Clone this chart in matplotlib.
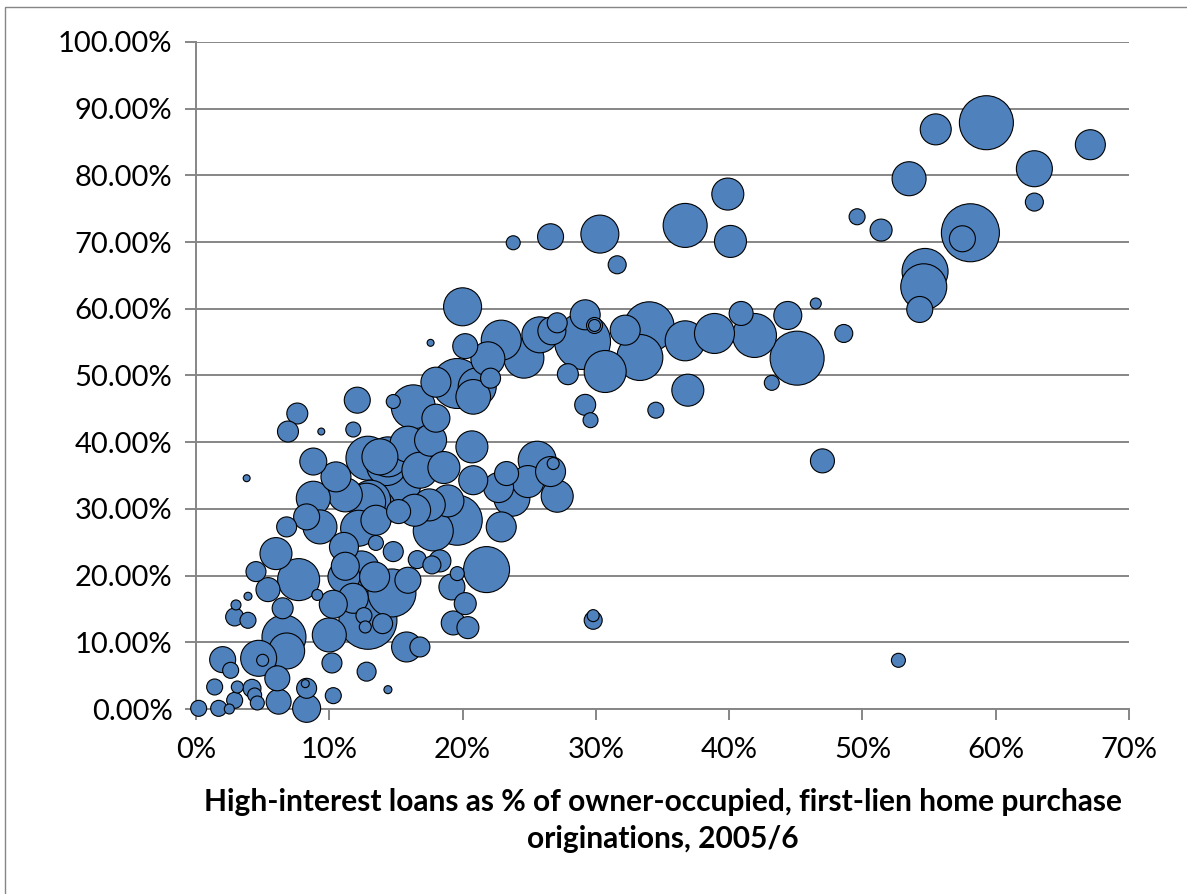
import numpy as np
import matplotlib
matplotlib.use("Agg")
import matplotlib.pyplot as plt
from matplotlib.ticker import FuncFormatter
from matplotlib.patches import Rectangle

# High-interest loan share (%), x
high_interest_pct = [
    59.3, 55.5, 67.1, 62.9, 53.5, 62.9, 49.6, 51.4, 58.1, 57.5, 54.7, 54.6, 54.3, 47.0, 52.7,
    36.7, 39.9, 40.1, 36.7, 38.9, 40.9, 41.9, 44.4, 46.5, 48.6, 45.1, 43.2, 36.9, 31.6, 30.3,
    26.6, 23.8, 34.5, 34.0, 33.3, 32.2, 30.7, 29.2, 29.0, 29.9, 29.9, 27.9, 29.2, 29.6, 25.8,
    26.7, 27.1, 24.6, 22.9, 21.9, 20.2, 17.6, 20.0, 22.1, 21.1, 19.6, 18.0, 16.3, 14.8, 18.0,
    20.8, 15.9, 20.7, 17.6, 13.8, 18.6, 15.2, 20.8, 22.7, 23.3, 24.9, 25.6, 26.8, 26.6, 27.1,
    23.7, 18.9, 19.6, 17.8, 22.9, 15.2, 14.7, 21.8, 19.2, 18.3, 16.6, 20.2, 19.3, 20.4, 19.6,
    29.8, 29.8, 15.8, 16.8, 12.1, 7.6, 6.9, 9.4, 11.8, 3.8, 8.8, 12.9, 15.0, 11.2, 8.8,
    8.3, 6.8, 9.3, 12.2, 11.1, 13.5, 6.0, 4.5, 7.7, 5.4, 3.9, 3.0, 2.9, 3.9, 6.5,
    6.6, 6.8, 10.0, 9.1, 10.3, 11.1, 13.4, 12.9, 12.6, 12.7, 14.0, 10.2, 12.8, 14.4, 10.3,
    8.3, 8.2, 6.2, 8.3, 6.1, 4.2, 4.7, 2.0, 2.6, 1.4, 3.1, 2.9, 1.7, 0.2, 4.4,
    4.6, 2.5, 11.8, 17.7, 14.8, 15.9, 12.4, 13.5, 10.5, 14.3, 12.8, 16.8, 17.5, 14.4, 16.4,
    13.1, 11.2, 13.5, 5.0,
]
# Outcome share (%), y
outcome_pct = [
    87.9, 86.9, 84.6, 81.0, 79.5, 76.0, 73.8, 71.8, 71.4, 70.5, 65.6, 63.3, 59.9, 37.2, 7.3,
    72.5, 77.2, 70.1, 55.2, 56.3, 59.3, 56.0, 59.0, 60.8, 56.3, 52.6, 48.9, 47.8, 66.6, 71.2,
    70.8, 69.9, 44.8, 57.3, 52.7, 56.8, 50.6, 59.1, 55.1, 57.5, 57.5, 50.2, 45.6, 43.3, 56.1,
    56.7, 57.9, 52.6, 55.3, 52.5, 54.4, 54.9, 60.3, 49.6, 48.3, 48.8, 49.0, 45.3, 46.1, 43.6,
    46.8, 39.7, 39.3, 40.3, 37.8, 36.2, 33.6, 34.3, 33.2, 35.3, 34.1, 37.3, 36.8, 35.6, 31.9,
    31.6, 31.2, 28.3, 26.7, 27.3, 29.6, 17.4, 20.9, 18.3, 22.2, 22.4, 15.8, 12.9, 12.2, 20.3,
    13.3, 14.0, 9.3, 9.3, 46.3, 44.3, 41.6, 41.6, 41.9, 34.6, 37.1, 37.6, 33.3, 32.1, 31.6,
    28.8, 27.3, 27.3, 27.1, 24.3, 24.9, 23.3, 20.6, 19.4, 17.9, 16.9, 15.6, 13.8, 13.3, 15.1,
    10.8, 8.7, 11.1, 17.1, 15.7, 19.8, 19.8, 13.3, 14.0, 12.3, 12.8, 6.9, 5.6, 2.9, 2.0,
    3.1, 3.8, 1.1, 0.1, 4.6, 3.1, 7.6, 7.4, 5.8, 3.3, 3.3, 1.3, 0.1, 0.1, 2.1,
    0.9, 0.0, 16.6, 21.6, 23.6, 19.3, 21.0, 30.0, 34.8, 36.5, 31.0, 35.8, 30.6, 37.8, 29.8,
    31.3, 21.4, 28.3, 7.3,
]
# Bubble weight (relative number of loans)
bubble_weight = [
    729, 240, 225, 324, 289, 81, 64, 121, 841, 169, 529, 529, 169, 144, 49,
    484, 256, 256, 400, 400, 144, 484, 196, 30, 81, 729, 56, 256, 81, 361,
    169, 49, 64, 625, 529, 225, 441, 225, 784, 64, 36, 110, 110, 56, 324,
    196, 100, 400, 400, 289, 156, 12, 361, 100, 361, 625, 225, 484, 49, 196,
    300, 324, 256, 256, 324, 256, 484, 210, 225, 144, 256, 361, 36, 225, 256,
    324, 256, 625, 400, 225, 144, 576, 529, 169, 121, 81, 121, 144, 121, 49,
    81, 36, 225, 100, 169, 110, 110, 12, 56, 12, 182, 484, 576, 289, 289,
    169, 100, 289, 324, 210, 56, 256, 100, 441, 144, 16, 25, 81, 64, 110,
    484, 324, 289, 30, 196, 256, 225, 841, 64, 36, 100, 100, 90, 16, 64,
    100, 16, 156, 196, 156, 81, 324, 169, 64, 64, 36, 64, 64, 64, 49,
    49, 25, 225, 81, 100, 169, 324, 400, 225, 400, 361, 324, 256, 400, 256,
    400, 196, 225, 36,
]

x_ticks = [0, 10, 20, 30, 40, 50, 60, 70]
y_ticks = [0, 10, 20, 30, 40, 50, 60, 70, 80, 90, 100]
x_label = "High-interest loans as % of owner-occupied, first-lien home purchase\noriginations, 2005/6"

plt.rcParams['font.family'] = ['Lato', 'DejaVu Sans']

W, H, DPI = 1187, 894, 100
fig = plt.figure(figsize=(W / DPI, H / DPI), dpi=DPI)
fig.patch.set_facecolor("white")
fig.add_artist(Rectangle((5 / W, -0.5), 1.5, 1.5 - 7 / H, transform=fig.transFigure,
                         fill=False, edgecolor="#868686", linewidth=1.0))

ax = fig.add_axes([196 / W, 1 - 709 / H, (1129 - 196) / W, (709 - 42) / H])

xs = np.array(high_interest_pct)
ys = np.array(outcome_pct)
ws = np.array(bubble_weight, dtype=float)
order = np.argsort(-ws, kind="stable")
px_to_pt = 72 / DPI
ax.scatter(xs[order], ys[order], s=ws[order] * (2 * px_to_pt) ** 2,
           facecolor="#4F81BD", edgecolor="black", linewidth=0.8, zorder=3, clip_on=False)

ax.set_xlim(0, 70)
ax.set_ylim(0, 100)
ax.set_xticks(x_ticks)
ax.set_yticks(y_ticks)
ax.xaxis.set_major_formatter(FuncFormatter(lambda v, p: f"{v:.0f}%"))
ax.yaxis.set_major_formatter(FuncFormatter(lambda v, p: f"{v:.2f}%"))

grid_c = "#868686"
ax.grid(axis="y", color=grid_c, linewidth=1.4, zorder=0)
ax.set_axisbelow(True)
for s in ["top", "right"]:
    ax.spines[s].set_visible(False)
for s in ["left", "bottom"]:
    ax.spines[s].set_color(grid_c)
    ax.spines[s].set_linewidth(1.4)
ax.tick_params(axis="both", direction="out", length=8, width=1.4, color=grid_c,
               labelsize=21, labelcolor="black")
ax.tick_params(axis="y", pad=9)
ax.tick_params(axis="x", pad=12)

ax.set_xlabel(x_label, fontsize=21.5, fontweight="bold", labelpad=18, linespacing=1.4)

fig.savefig("out.png", dpi=DPI, facecolor="white")
